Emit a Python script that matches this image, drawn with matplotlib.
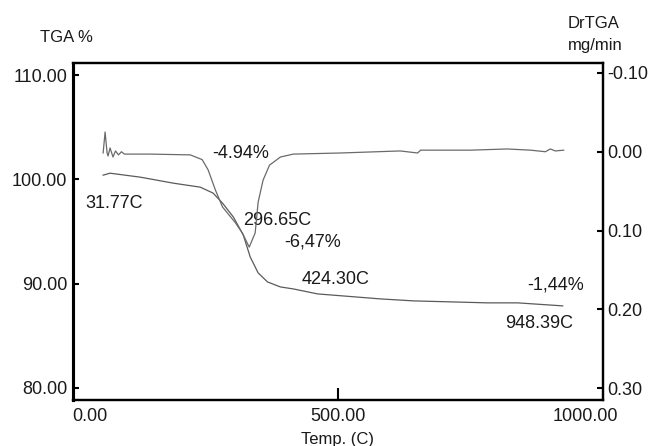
import matplotlib
matplotlib.use("Agg")
import matplotlib.pyplot as plt
from matplotlib.ticker import FormatStrFormatter

plt.rcParams['font.family'] = ['Liberation Sans', 'DejaVu Sans']

# TGA curve (temperature C, weight %)
tga_temp = [26, 40, 101, 168, 222, 248, 267, 289, 309, 323, 339, 358, 384,
            410, 459, 586, 653, 802, 863, 954]
tga_pct = [100.41, 100.60, 100.22, 99.64, 99.26, 98.69, 97.73, 96.39, 94.66,
           92.55, 91.02, 90.15, 89.67, 89.48, 89.00, 88.52, 88.33, 88.14,
           88.14, 87.85]

# DrTGA curve (temperature C, mg/min)
dtg_temp = [26, 30, 34, 36, 40, 46, 51, 57, 63, 69, 121, 202, 226, 238, 253,
            267, 293, 307, 321, 333, 339, 349, 362, 384, 410, 505, 626, 661,
            667, 768, 842, 889, 919, 929, 939, 956]
dtg_val = [0.0016, -0.025, 0.0016, 0.0054, -0.0048, 0.0067, -0.001, 0.004,
           0.000, 0.003, 0.003, 0.004, 0.010, 0.023, 0.049, 0.070, 0.090,
           0.103, 0.121, 0.103, 0.064, 0.036, 0.017, 0.0067, 0.003, 0.0016,
           -0.001, 0.0016, -0.002, -0.002, -0.0035, -0.002, 0.000, -0.0035,
           -0.001, -0.002]

# annotations: (text, x, y) in TGA axis units
notes = [("31.77C", -10, 97.7),
         ("-4.94%", 246, 102.5),
         ("296.65C", 309, 96.1),
         ("-6,47%", 392, 94.0),
         ("424.30C", 426, 90.35),
         ("-1,44%", 883, 89.87),
         ("948.39C", 838, 86.2)]

x_ticks = [0, 500, 1000]
tga_ticks = [80, 90, 100, 110]
dtg_ticks = [-0.10, 0.00, 0.10, 0.20, 0.30]

fs = 13
txt = '#1a1a1a'

fig = plt.figure(figsize=(6.51, 4.46), dpi=100)
ax = fig.add_axes([0.112, 0.103, 0.814, 0.756])
ax2 = ax.twinx()

ax.plot(tga_temp, tga_pct, color='#5a5a5a', lw=0.9)
ax2.plot(dtg_temp, dtg_val, color='#6a6a6a', lw=0.9)

ax.set_xlim(-35, 1035)
ax.set_ylim(78.8, 111.2)
ax2.set_ylim(0.315, -0.1127)

ax.set_xticks(x_ticks)
ax.set_yticks(tga_ticks)
ax2.set_yticks(dtg_ticks)
ax.xaxis.set_major_formatter(FormatStrFormatter('%.2f'))
ax.yaxis.set_major_formatter(FormatStrFormatter('%.2f'))
ax2.yaxis.set_major_formatter(FormatStrFormatter('%.2f'))

ax.tick_params(axis='x', direction='in', length=9, width=1.5, pad=6,
               labelsize=fs, labelcolor=txt)
ax.tick_params(axis='y', direction='in', length=4, width=1.5, pad=4,
               labelsize=fs, labelcolor=txt)
ax2.tick_params(axis='y', direction='in', length=4, width=1.5, pad=3,
                labelsize=fs, labelcolor=txt)

# only the middle temperature tick shows a mark
xt = ax.xaxis.get_major_ticks()
xt[0].tick1line.set_visible(False)
xt[-1].tick1line.set_visible(False)

for a in (ax, ax2):
    for side in ('top', 'bottom', 'right'):
        a.spines[side].set_linewidth(1.6)
    a.spines['left'].set_linewidth(2.2)

for s, x, y in notes:
    ax.text(x, y, s, fontsize=fs, color=txt, ha='left', va='center')

ax.set_xlabel('Temp. (C)', fontsize=fs - 1, color=txt, labelpad=5)
fig.text(0.062, 0.917, 'TGA %', fontsize=fs - 1, color=txt, va='center')
fig.text(0.872, 0.948, 'DrTGA', fontsize=fs - 1, color=txt, va='center')
fig.text(0.872, 0.899, 'mg/min', fontsize=fs - 1, color=txt, va='center')

fig.savefig('out.png', dpi=100)
